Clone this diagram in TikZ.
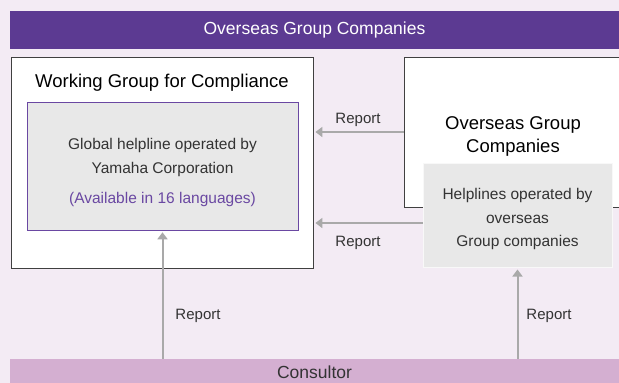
\documentclass[tikz,border=0pt]{standalone}
\usepackage{fontspec}
\setmainfont{Liberation Sans}
\usetikzlibrary{positioning}
\usetikzlibrary{arrows.meta}
\definecolor{bgcol}{HTML}{F3EBF4}
\definecolor{barpurple}{HTML}{5C3A92}
\definecolor{barpink}{HTML}{D4AFD1}
\definecolor{boxgray}{HTML}{E8E8E8}
\definecolor{linegray}{HTML}{A9A9A9}
\definecolor{textpurple}{HTML}{6A48A2}
\definecolor{textgray}{HTML}{333333}

\begin{document}
\begin{tikzpicture}[x=1pt, y=-1pt,
    bar/.style={rectangle, inner sep=0pt, minimum width=609pt, font=\fontsize{17.5}{20}\selectfont},
    frame/.style={rectangle, draw=black!75, line width=0.8pt, fill=white, inner sep=0pt},
    helpbox/.style={rectangle, fill=boxgray, inner sep=0pt},
    helptext/.style={align=center, text=textgray, font=\fontsize{15.5}{24}\selectfont},
    title/.style={font=\fontsize{18.5}{23}\selectfont, align=center},
    lbl/.style={font=\fontsize{15}{18}\selectfont, text=textgray},
    arrow/.style={-{Triangle[width=10pt,length=7pt]}, draw=linegray, line width=2pt, shorten >=2pt}
]
    % Background
    \fill[bgcol] (0,0) rectangle (619,383);
    \useasboundingbox (0,0) rectangle (619,383);

    % Bars
    \node[bar, fill=barpurple, text=white, minimum height=38pt] (top) at (314.5,30) {Overseas Group Companies};
    \node[bar, fill=barpink, text=textgray, minimum height=26pt] (con) at (314.5,372) {Consultor};

    % Working group
    \node[frame, minimum width=302pt, minimum height=211pt] (wg) at (162,162.5) {};
    \node[title] (wgt) at (162,83) {Working Group for Compliance};
    \node[helpbox, draw=textpurple, line width=0.6pt, minimum width=271pt, minimum height=128pt] (gh) at (162.5,166) {};
    \node[helptext] (ght) at (162.5,172)
        {Global helpline operated by\\Yamaha Corporation\\[6pt]\textcolor{textpurple}{(Available in 16 languages)}};

    % Overseas group companies
    \node[frame, minimum width=222pt, minimum height=150pt] (ogc) at (515,132) {};
    \node[title] (ogct) at (513,136) {Overseas Group\\Companies};
    \node[helpbox, draw=white!70!boxgray, line width=1pt, minimum width=189pt, minimum height=104pt] (hl) at (517.5,215) {};
    \node[helptext, font=\fontsize{15.5}{23.5}\selectfont] (hlt) at (517.5,219)
        {Helplines operated by\\overseas\\Group companies};

    % Connections
    \draw[arrow] (ogc.west) -- (ogc.west -| wg.east);
    \draw[arrow] ([yshift=-8pt]hl.west) -- ([yshift=-8pt]hl.west -| wg.east);
    \draw[arrow] (gh.south |- con.north) -- (gh.south);
    \draw[arrow] (hl.south |- con.north) -- (hl.south);

    % Labels
    \node[lbl] (r1) at (358,120) {Report};
    \node[lbl] (r2) at (358,243) {Report};
    \node[lbl] (r3) at (198,316) {Report};
    \node[lbl] (r4) at (549,316) {Report};
\end{tikzpicture}
\end{document}
